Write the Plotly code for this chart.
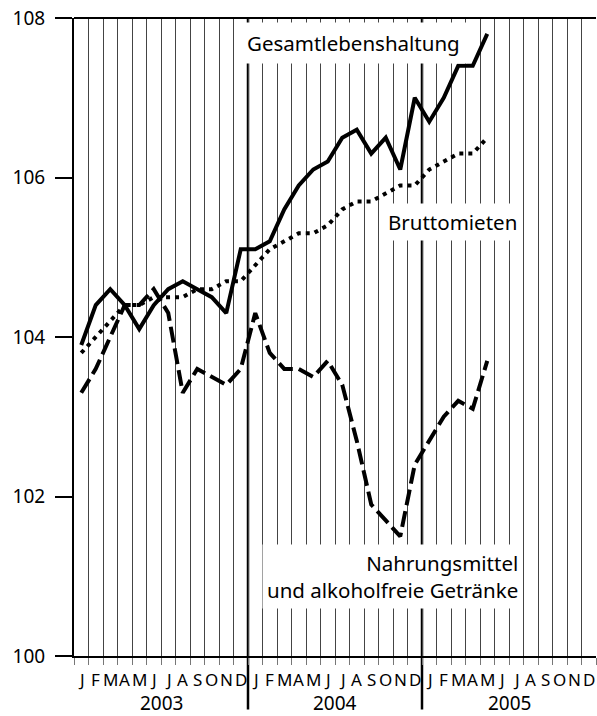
import plotly.graph_objects as go

# ---- data ----
month_letters = ["J", "F", "M", "A", "M", "J", "J", "A", "S", "O", "N", "D"]
years = ["2003", "2004", "2005"]

gesamt = [103.9, 104.4, 104.6, 104.4, 104.1, 104.4, 104.6, 104.7, 104.6, 104.5, 104.3, 105.1,
          105.1, 105.2, 105.6, 105.9, 106.1, 106.2, 106.5, 106.6, 106.3, 106.5, 106.1, 107.0,
          106.7, 107.0, 107.4, 107.4, 107.8]
brutto = [103.8, 104.0, 104.2, 104.4, 104.4, 104.5, 104.5, 104.5, 104.6, 104.6, 104.7, 104.7,
          104.9, 105.1, 105.2, 105.3, 105.3, 105.4, 105.6, 105.7, 105.7, 105.8, 105.9, 105.9,
          106.1, 106.2, 106.3, 106.3, 106.5]
nahrung = [103.3, 103.6, 104.0, 104.4, 104.4, 104.6, 104.3, 103.3, 103.6, 103.5, 103.4, 103.6,
           104.3, 103.8, 103.6, 103.6, 103.5, 103.7, 103.4, 102.7, 101.9, 101.7, 101.5, 102.4,
           102.7, 103.0, 103.2, 103.1, 103.7]
y_ticks = [100, 102, 104, 106, 108]

n_months = 12 * len(years)
x_idx = list(range(len(gesamt)))
FONT = "Noto Sans"

fig = go.Figure()
fig.add_trace(go.Scatter(x=x_idx, y=gesamt, mode="lines",
                         line=dict(color="black", width=4), name="Gesamtlebenshaltung"))
fig.add_trace(go.Scatter(x=x_idx, y=brutto, mode="lines",
                         line=dict(color="black", width=4, dash="4px,5px"), name="Bruttomieten"))
fig.add_trace(go.Scatter(x=x_idx, y=nahrung, mode="lines",
                         line=dict(color="black", width=4, dash="16px,6px"),
                         name="Nahrungsmittel"))

boundaries = [k - 0.5 for k in range(n_months + 1)]

shapes = []
# year separator lines
for yi in range(1, len(years)):
    xb = yi * 12 - 0.5
    shapes.append(dict(type="line", xref="x", yref="paper", x0=xb, x1=xb,
                       y0=-0.084, y1=1, line=dict(color="black", width=2.5), layer="below"))
# top frame line
shapes.append(dict(type="line", xref="paper", yref="paper", x0=0, x1=1, y0=1, y1=1,
                   line=dict(color="black", width=2)))

annotations = []
for i in range(n_months):
    annotations.append(dict(x=i, y=-0.037, xref="x", yref="paper",
                            text=month_letters[i % 12], showarrow=False,
                            xanchor="center", yanchor="middle", borderpad=0,
                            font=dict(family=FONT, size=17, color="black")))
for yi, yr in enumerate(years):
    annotations.append(dict(x=yi * 12 + 5.5, y=-0.074, xref="x", yref="paper",
                            text=yr, showarrow=False, xanchor="center", yanchor="middle",
                            borderpad=0,
                            font=dict(family=FONT, size=19, color="black")))

lab_font = dict(family=FONT, size=20.5, color="black")
annotations.append(dict(x=26.6, y=107.69, xref="x", yref="y", text="Gesamtlebenshaltung",
                        showarrow=False, xanchor="right", yanchor="middle",
                        bgcolor="white", borderpad=6, font=lab_font))
annotations.append(dict(x=30.4, y=105.44, xref="x", yref="y", text="Bruttomieten",
                        showarrow=False, xanchor="right", yanchor="middle",
                        bgcolor="white", borderpad=4, font=lab_font))
annotations.append(dict(x=30.45, y=101.0, xref="x", yref="y",
                        text="Nahrungsmittel<br>und alkoholfreie Getränke",
                        showarrow=False, xanchor="right", yanchor="middle", align="right",
                        bgcolor="white", borderpad=4, font=lab_font))

fig.update_layout(
    width=597, height=716,
    margin=dict(l=74, r=1, t=18, b=60),
    plot_bgcolor="white", paper_bgcolor="white",
    showlegend=False,
    shapes=shapes,
    annotations=annotations,
    xaxis=dict(range=[-0.5, n_months - 0.5], tickmode="array", tickvals=boundaries,
               showticklabels=False, showgrid=True, gridcolor="#444", gridwidth=1,
               ticks="outside", ticklen=7, tickcolor="#777", tickwidth=1,
               showline=True, linecolor="black", linewidth=2, zeroline=False, fixedrange=True),
    yaxis=dict(range=[100, 108], tickmode="array", tickvals=y_ticks,
               ticktext=[str(v) for v in y_ticks], showgrid=False, zeroline=False,
               ticks="outside", ticklen=17, tickwidth=2, tickcolor="black",
               showline=True, linecolor="black", linewidth=2,
               ticklabelstandoff=6,
               tickfont=dict(family=FONT, size=19, color="black"), fixedrange=True),
)

fig.write_html("out.html",
               config={"displayModeBar": False},
               post_script="document.body.style.margin='0';document.body.style.overflow='hidden';")
